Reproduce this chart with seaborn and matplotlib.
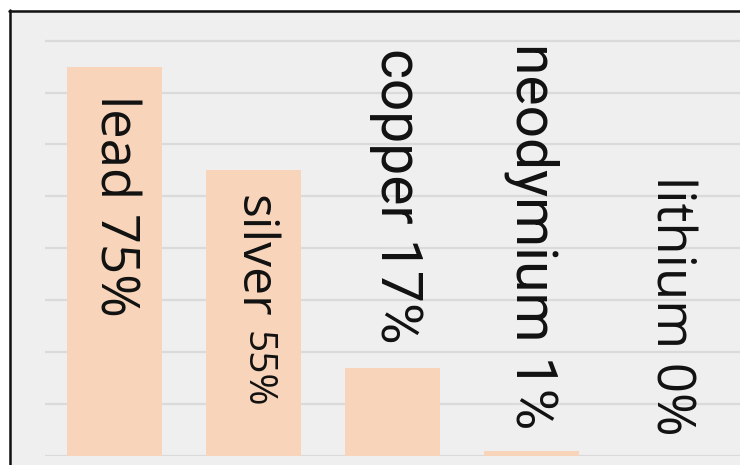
import matplotlib
matplotlib.use("Agg")
import matplotlib.pyplot as plt
import seaborn as sns
import pandas as pd
from matplotlib.patches import Rectangle
from matplotlib.lines import Line2D

metals = ["lead", "silver", "copper", "neodymium", "lithium"]
shares = [75, 55, 17, 1, 0]
label_names = ["lead", "silver", "copper", "neodymium", "lithium"]
label_pcts = ["75%", "55%", "17%", "1%", "0%"]
grid_ticks = [0, 10, 20, 30, 40, 50, 60, 70, 80]

df = pd.DataFrame({"metal": metals, "share": shares})

sns.set_theme(style="whitegrid")
BG = "#efefef"
fig = plt.figure(figsize=(7.4, 4.65), dpi=100, facecolor=BG)
ax = fig.add_axes([45 / 740, 9 / 465, 1 - 45 / 740, (456 - 11) / 465])
ax.set_facecolor(BG)

sns.barplot(data=df, x="metal", y="share", color="#f7d4ba", saturation=1,
            width=0.68, ax=ax, edgecolor="none")

ax.set_xlim(-0.5, 4.5)
ax.set_ylim(0, 85.7)
ax.set_yticks(grid_ticks)
ax.set_yticklabels([])
ax.set_xticklabels([])
ax.set_xlabel("")
ax.set_ylabel("")
ax.tick_params(length=0)
ax.grid(axis="y", color="#dadada", linewidth=1.6)
ax.grid(axis="x", visible=False)
ax.set_axisbelow(True)
for s in ax.spines.values():
    s.set_visible(False)

# labels: start offsets (in value units) of the rotated text
label_top = [69.6, 50.3, 78.5, 79.5, 54.0]
x_shift = [0.0, 0.0, 0.03, 0.0, 0.0]
TXT = "#111111"

for i in range(len(metals)):
    if i == 1:
        # silver: big word, smaller percentage
        ax.text(i + x_shift[i], label_top[i], label_names[i], rotation=270,
                ha="center", va="top", fontsize=36, family="Open Sans",
                color=TXT)
        ax.text(i + 0.02, label_top[i] - 26.3, label_pcts[i], rotation=270,
                ha="center", va="top", fontsize=28, family="Open Sans",
                color=TXT)
    else:
        fam = "Roboto" if i in (2, 3) else "Open Sans"
        fs = 38 if i in (0, 4) else 41
        ax.text(i + x_shift[i], label_top[i], f"{label_names[i]} {label_pcts[i]}",
                rotation=270, ha="center", va="top", fontsize=fs, family=fam,
                color=TXT)

# outer white margins and dark frame (figure decoration)
fig.add_artist(Rectangle((0, 0), 9 / 740, 1, transform=fig.transFigure,
                         facecolor="white", edgecolor="none", zorder=5))
fig.add_artist(Rectangle((0, 1 - 10 / 465), 1, 10 / 465, transform=fig.transFigure,
                         facecolor="white", edgecolor="none", zorder=5))
fig.add_artist(Line2D([9.8 / 740, 9.8 / 740], [0, 1 - 10.5 / 465],
                      transform=fig.transFigure, color="#111111", lw=1.8, zorder=6))
fig.add_artist(Line2D([9 / 740, 1], [1 - 10.8 / 465, 1 - 10.8 / 465],
                      transform=fig.transFigure, color="#111111", lw=1.8, zorder=6))

fig.savefig("out.png", dpi=100, facecolor=BG)
